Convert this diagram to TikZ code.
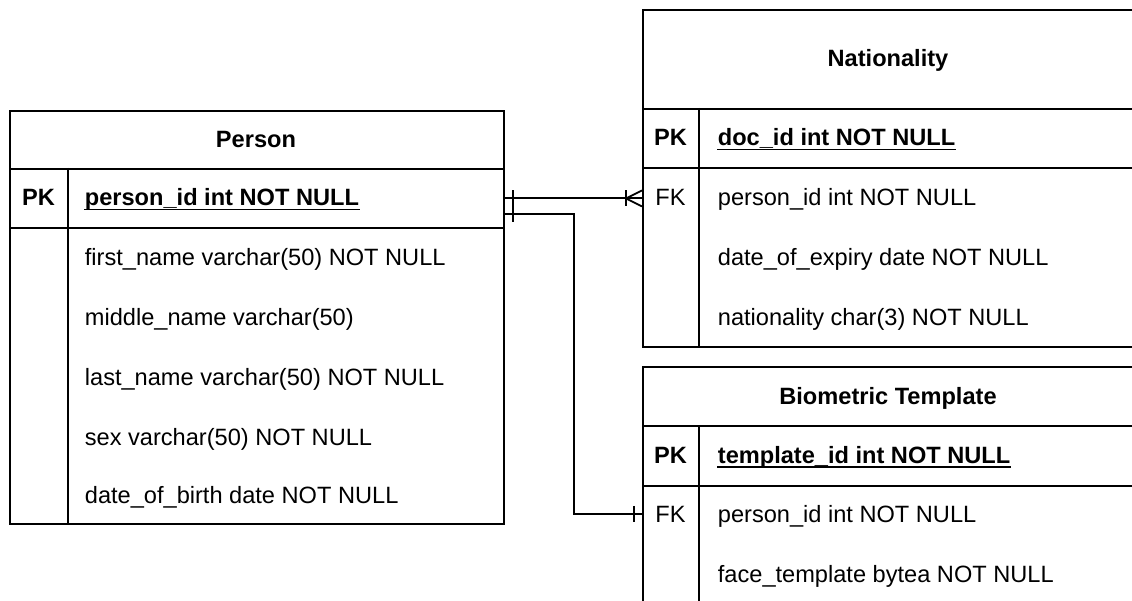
\documentclass[tikz,border=0pt]{standalone}
\usepackage{fontspec}
\setmainfont{Liberation Sans}
\begin{document}
\begin{tikzpicture}[x=1pt,y=-1pt,
  line width=1.8pt,
  cell/.style={draw, rectangle, inner sep=0pt, anchor=north west},
  field/.style={anchor=base west, inner sep=0pt, font=\fontsize{23.6}{27}\selectfont},
  pkfield/.style={field, font=\fontsize{23.6}{27}\selectfont\bfseries},
  title/.style={anchor=base, inner sep=0pt, font=\fontsize{23.6}{27}\selectfont\bfseries},
  keytag/.style={anchor=base, inner sep=0pt, font=\fontsize{23.6}{27}\selectfont},
  pktag/.style={keytag, font=\fontsize{23.6}{27}\selectfont\bfseries},
  rel/.style={line width=1.8pt},
  ulline/.style={line width=1.6pt}
]
\useasboundingbox (0,0) rectangle (1132,601);

% ---------- Person ----------
\node[cell, minimum width=494, minimum height=58]  (personhead) at (9,110) {};
\node[cell, minimum width=494, minimum height=59]  (personpk)   at (9,168) {};
\node[cell, minimum width=494, minimum height=296] (personbody) at (9,227) {};
\draw (personpk.north west) ++(59,0) coordinate (pdiv) -- (pdiv |- personbody.south);

\node[title] (persontitle) at (256,148) {Person};
\node[pktag] (personpkt) at (38.5,206) {PK};
\node[pkfield] (personid) at (84,206) {person\_id int NOT NULL};
\draw[ulline] ([yshift=-3.5pt]personid.base west) -- ([yshift=-3.5pt]personid.base east);
\node[field] (pf1) at (84,265.5) {first\_name varchar(50) NOT NULL};
\node[field] (pf2) at (84,325.5) {middle\_name varchar(50)};
\node[field] (pf3) at (84,385.5) {last\_name varchar(50) NOT NULL};
\node[field] (pf4) at (84,445)   {sex varchar(50) NOT NULL};
\node[field] (pf5) at (84,503)   {date\_of\_birth date NOT NULL};

% ---------- Nationality ----------
\node[cell, minimum width=494, minimum height=99]  (nathead) at (642,9) {};
\node[cell, minimum width=494, minimum height=59]  (natpk)   at (642,108) {};
\node[cell, minimum width=494, minimum height=179] (natbody) at (642,167) {};
\draw (natpk.north west) ++(57,0) coordinate (ndiv) -- (ndiv |- natbody.south);

\node[title] (nattitle) at (888,67) {Nationality};
\node[pktag] (natpkt) at (670.5,146) {PK};
\node[pkfield] (docid) at (717,146) {doc\_id int NOT NULL};
\draw[ulline] ([yshift=-3.5pt]docid.base west) -- ([yshift=-3.5pt]docid.base east);
\node[keytag] (natfk) at (670.5,206) {FK};
\node[field] (nf1) at (717,206)   {person\_id int NOT NULL};
\node[field] (nf2) at (717,265.5) {date\_of\_expiry date NOT NULL};
\node[field] (nf3) at (717,325.5) {nationality char(3) NOT NULL};

% ---------- Biometric Template ----------
\node[cell, minimum width=494, minimum height=59]  (biohead) at (642,366) {};
\node[cell, minimum width=494, minimum height=60]  (biopk)   at (642,425) {};
\node[cell, minimum width=494, minimum height=150] (biobody) at (642,485) {};
\draw (biopk.north west) ++(57,0) coordinate (bdiv) -- (bdiv |- biobody.south);

\node[title] (biotitle) at (888,404) {Biometric Template};
\node[pktag] (biopkt) at (670.5,463.5) {PK};
\node[pkfield] (tplid) at (717,463.5) {template\_id int NOT NULL};
\draw[ulline] ([yshift=-3.5pt]tplid.base west) -- ([yshift=-3.5pt]tplid.base east);
\node[keytag] (biofk) at (670.5,522) {FK};
\node[field] (bf1) at (717,522)   {person\_id int NOT NULL};
\node[field] (bf2) at (717,582.5) {face\_template bytea NOT NULL};

% ---------- Person 1 -- N Nationality ----------
\coordinate (natin) at (personpk.east -| natbody.west);
\draw[rel] (personpk.east) -- (natin);
\draw[rel] ([xshift=8pt]personpk.east) ++(0,-8) -- ++(0,16);
\draw[rel] (natin) ++(-16,-8) -- ++(0,16);
\draw[rel] (natin) ++(0,-8) -- ++(-16,8) -- ++(16,8);

% ---------- Person 1 -- 1 Biometric Template ----------
\coordinate (bioin) at (biofk -| biobody.west);
\draw[rel] ([yshift=-16pt]personpk.east) coordinate (pout) -- ++(69,0) |- (bioin);
\draw[rel] ([xshift=8pt]pout) ++(0,-8) -- ++(0,16);
\draw[rel] ([xshift=-8pt]bioin) ++(0,-8) -- ++(0,16);
\end{tikzpicture}
\end{document}
